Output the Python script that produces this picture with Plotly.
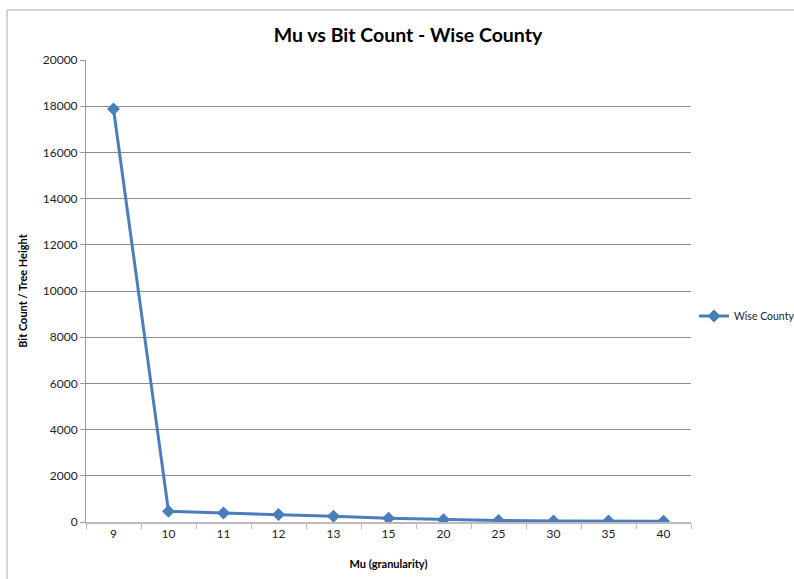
import plotly.graph_objects as go

# Granularity settings (category labels) and resulting bit count / tree height
mu_labels = ["9", "10", "11", "12", "13", "15", "20", "25", "30", "35", "40"]
bit_count = [17880, 460, 390, 325, 250, 160, 100, 70, 45, 40, 35]
y_ticks = [0, 2000, 4000, 6000, 8000, 10000, 12000, 14000, 16000, 18000, 20000]

W, H = 794, 579
L, R, T, B = 86, 691, 60, 522
pw, ph = R - L, B - T


def px_x(x):
    return (x - L) / pw


def px_y(y):
    return (B - y) / ph


fig = go.Figure()
fig.add_trace(go.Scatter(
    x=mu_labels,
    y=bit_count,
    mode="lines+markers",
    name="Wise County",
    line=dict(color="#4A7EBB", width=3),
    marker=dict(symbol="diamond", size=10, color="#4A7EBB"),
))

font = "Lato, 'Open Sans', sans-serif"

fig.update_layout(
    width=W,
    height=H,
    margin=dict(l=L, r=W - R, t=T, b=H - B, autoexpand=False),
    paper_bgcolor="white",
    plot_bgcolor="white",
    font=dict(family=font, size=11, color="#222222"),
    title=dict(
        text="<b>Mu vs Bit Count - Wise County</b>",
        x=px_x(408), xref="paper", xanchor="center",
        y=1 - 35 / H, yanchor="middle",
        font=dict(family=font, size=19.5, color="#000000"),
    ),
    showlegend=True,
    legend=dict(
        x=px_x(694), y=px_y(316), xanchor="left", yanchor="middle",
        font=dict(family=font, size=10.5, color="#222222"),
        bgcolor="rgba(0,0,0,0)",
        itemwidth=30,
    ),
    xaxis=dict(
        type="category",
        categoryorder="array",
        categoryarray=mu_labels,
        tickson="boundaries",
        ticks="outside",
        ticklen=5,
        tickcolor="#bbbbbb",
        showline=True,
        linecolor="#bbbbbb",
        linewidth=1.5,
        showgrid=False,
        title=dict(text="<b>Mu (granularity)</b>", standoff=20,
                   font=dict(family=font, size=11, color="#000000")),
        tickfont=dict(size=12, color="#222222"),
        range=[-0.5, len(mu_labels) - 0.5],
    ),
    yaxis=dict(
        range=[0, 20000],
        tickvals=y_ticks,
        ticktext=[str(v) for v in y_ticks],
        ticks="outside",
        ticklen=5,
        tickcolor="#999999",
        showline=True,
        linecolor="#999999",
        linewidth=1,
        showgrid=True,
        gridcolor="#8c8c8c",
        gridwidth=1,
        zeroline=False,
        title=dict(text="<b>Bit Count / Tree Height</b>", standoff=12,
                   font=dict(family=font, size=11, color="#000000")),
        tickfont=dict(size=12, color="#222222"),
    ),
)

# Chart frame (top and left edges of the chart border)
frame = dict(color="#c4c4c4", width=1.5)
fig.add_shape(type="line", xref="paper", yref="paper",
              x0=px_x(7), x1=px_x(W + 20), y0=px_y(10), y1=px_y(10), line=frame)
fig.add_shape(type="line", xref="paper", yref="paper",
              x0=px_x(7), x1=px_x(7), y0=px_y(10), y1=px_y(H + 20), line=frame)

fig.write_html("out.html")
